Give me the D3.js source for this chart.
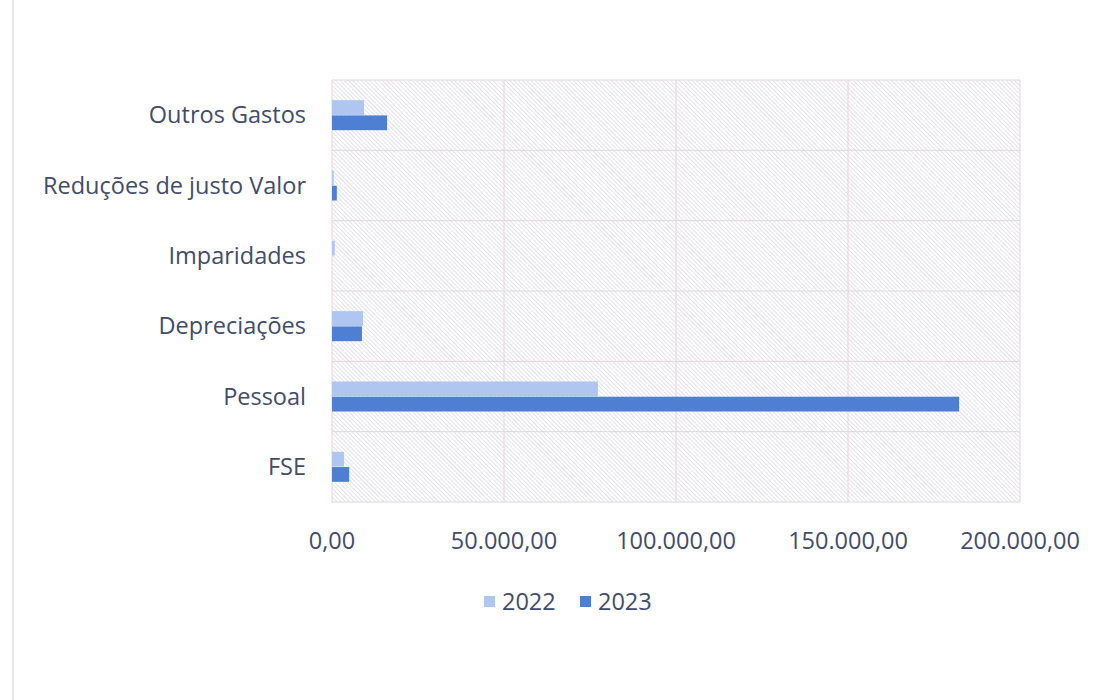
<!DOCTYPE html>
<html><head><meta charset="utf-8">
<script src="https://cdn.jsdelivr.net/npm/d3@7"></script>
<style>body{margin:0;background:#fff}svg{display:block}</style>
</head><body>
<script>
const categories = ["Outros Gastos","Reduções de justo Valor","Imparidades","Depreciações","Pessoal","FSE"];
const series = ["2022","2023"];
const values2022 = [9300, 500, 800, 9000, 77300, 3500];
const values2023 = [16000, 1400, 0, 8700, 182300, 5000];
const tickValues = [0, 50000, 100000, 150000, 200000];
const tickLabels = ["0,00","50.000,00","100.000,00","150.000,00","200.000,00"];
const colors = {"2022":"#aec6f0","2023":"#4f7fd2"};

const W=1116,H=700;
const svg=d3.select("body").append("svg").attr("width",W).attr("height",H);
const defs=svg.append("defs");
const pat=defs.append("pattern").attr("id","hatch").attr("patternUnits","userSpaceOnUse")
  .attr("width",3).attr("height",3).attr("patternTransform","rotate(-45)");
pat.append("line").attr("x1",0.5).attr("y1",0).attr("x2",0.5).attr("y2",3).attr("stroke","#e3e3e8").attr("stroke-width",1);

// scan edge line
svg.append("line").attr("x1",13).attr("x2",13).attr("y1",0).attr("y2",H).attr("stroke","#d2d2d2").attr("stroke-width",1);

const m={l:332,r:1020,t:80,b:502};
const x=d3.scaleLinear().domain([0,200000]).range([m.l,m.r]);
const y=d3.scaleBand().domain(categories).range([m.t,m.b]).paddingInner(0.56).paddingOuter(0.28);
const ySub=d3.scaleBand().domain(series).range([0,y.bandwidth()]).padding(0.03);

svg.append("rect").attr("x",m.l).attr("y",m.t).attr("width",m.r-m.l).attr("height",m.b-m.t).attr("fill","url(#hatch)");

const textColor="#414c6c";
const font="Open Sans, sans-serif", fs=23.5;
// vertical gridlines
svg.append("g").selectAll("line").data(tickValues).join("line")
  .attr("x1",d=>x(d)).attr("x2",d=>x(d)).attr("y1",m.t).attr("y2",m.b)
  .attr("stroke","#e4d6dc").attr("stroke-width",1);
// horizontal band separators
const step=(m.b-m.t)/categories.length;
svg.append("g").selectAll("line").data(d3.range(categories.length+1)).join("line")
  .attr("x1",m.l).attr("x2",m.r).attr("y1",d=>m.t+d*step).attr("y2",d=>m.t+d*step)
  .attr("stroke","#e4d6dc").attr("stroke-width",1);

const data=categories.map((c,i)=>({cat:c,v:{"2022":values2022[i],"2023":values2023[i]}}));
const g=svg.append("g");
data.forEach(d=>{
  series.forEach(s=>{
    g.append("rect").attr("x",x(0)).attr("y",y(d.cat)+ySub(s))
     .attr("width",x(d.v[s])-x(0)).attr("height",ySub.bandwidth()).attr("fill",colors[s]);
  });
});

// y labels
svg.append("g").selectAll("text").data(categories).join("text")
  .attr("x",306).attr("y",d=>y(d)+y.bandwidth()/2).attr("dy","0.35em")
  .attr("text-anchor","end").attr("font-family",font).attr("font-size",fs)
  .attr("fill",textColor).text(d=>d);
// x labels
svg.append("g").selectAll("text").data(tickValues).join("text")
  .attr("x",d=>x(d)).attr("y",541).attr("dy","0.35em").attr("text-anchor","middle")
  .attr("font-family",font).attr("font-size",fs).attr("fill",textColor)
  .text((d,i)=>tickLabels[i]);

// legend
const leg=svg.append("g");
const lx=[484,580];
series.forEach((s,i)=>{
  leg.append("rect").attr("x",lx[i]).attr("y",596).attr("width",11).attr("height",11).attr("fill",colors[s]);
  leg.append("text").attr("x",lx[i]+18).attr("y",602).attr("dy","0.35em")
   .attr("font-family",font).attr("font-size",fs).attr("fill",textColor).text(s);
});
</script>
</body></html>
